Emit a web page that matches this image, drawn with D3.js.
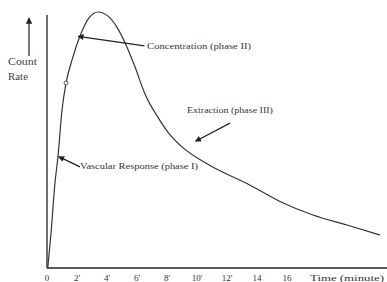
<!DOCTYPE html>
<html>
<head>
<meta charset="utf-8">
<script src="https://cdn.jsdelivr.net/npm/d3@7"></script>
<style>
  body { margin: 0; background: #fff; }
  svg { display: block; font-family: "Liberation Serif", "DejaVu Serif", serif; }
</style>
</head>
<body>
<div id="chart"></div>
<script>
// time (minutes) and count rate (arbitrary units, peak = 100)
const times  = [0.05, 0.27, 0.53, 0.73, 1.0, 1.27, 1.67, 2.2, 2.8, 3.4, 4.07, 4.67, 5.2, 5.87, 6.53, 7.33, 8.07, 8.87, 10.87, 13.33, 15.53, 17.73, 20, 22.2];
const counts = [0, 13.7, 33.2, 43.4, 61.7, 72.3, 81.3, 90.6, 97.7, 100, 98.4, 94, 88, 78.5, 68, 59.5, 53, 48, 40, 33, 26, 20.7, 16.8, 12.9];

const tickValues = [0, 2, 4, 6, 8, 10, 12, 14, 16];
const tickLabels = ["0", "2'", "4'", "6'", "8'", "10'", "12'", "14", "16"];

// annotation: arrow head point, arrow tail point, label text (data units)
const notes = [
  { head: [2.07, 90.5], tail: [6.5, 86.8], text: "Concentration (phase II)", lx: 6.67, ly: 85.5, len: 104 },
  { head: [9.9, 49.5], tail: [12.2, 56.6], text: "Extraction (phase III)", lx: 9.33, ly: 60.5, len: 86 },
  { head: [0.78, 43.5], tail: [2.2, 39.5], text: "Vascular Response (phase I)", lx: 2.2, ly: 38.5, len: 118 }
];

const width = 387, height = 282;
const x = d3.scaleLinear().domain([0, 16]).range([47, 287]);
const y = d3.scaleLinear().domain([0, 100]).range([268, 12]);

const svg = d3.select("#chart").append("svg")
  .attr("width", width).attr("height", height);

svg.append("defs").append("marker")
  .attr("id", "head")
  .attr("viewBox", "0 0 10 10")
  .attr("refX", 9).attr("refY", 5)
  .attr("markerWidth", 6).attr("markerHeight", 5)
  .attr("orient", "auto")
  .append("path").attr("d", "M0,0 L10,5 L0,10 Z").attr("fill", "#222");

// axes
svg.append("line")
  .attr("x1", x(0)).attr("x2", x(0)).attr("y1", 15).attr("y2", y(0))
  .attr("stroke", "#222").attr("stroke-width", 1.3);
svg.append("line")
  .attr("x1", x(0)).attr("x2", width).attr("y1", y(0)).attr("y2", y(0))
  .attr("stroke", "#222").attr("stroke-width", 1.3);

svg.selectAll(".tick")
  .data(tickValues)
  .join("text")
  .attr("class", "tick")
  .attr("x", d => x(d))
  .attr("y", 281)
  .attr("text-anchor", "middle")
  .attr("font-size", 9)
  .attr("fill", "#333")
  .text((d, i) => tickLabels[i]);

svg.append("text")
  .attr("x", 310).attr("y", 281)
  .attr("font-size", 9).attr("fill", "#333")
  .attr("textLength", 74)
  .attr("lengthAdjust", "spacingAndGlyphs")
  .text("Time (minute)");

// y label with up arrow
svg.append("line")
  .attr("x1", 29).attr("x2", 29).attr("y1", 56).attr("y2", 18)
  .attr("stroke", "#333").attr("stroke-width", 1.3)
  .attr("marker-end", "url(#head)");
svg.append("text").attr("x", 8).attr("y", 65)
  .attr("font-size", 10).attr("fill", "#444")
  .attr("textLength", 29).attr("lengthAdjust", "spacingAndGlyphs").text("Count");
svg.append("text").attr("x", 8).attr("y", 80)
  .attr("font-size", 10).attr("fill", "#444")
  .attr("textLength", 20).attr("lengthAdjust", "spacingAndGlyphs").text("Rate");

// curve
const pts = times.map((t, i) => [t, counts[i]]);
svg.append("path")
  .datum(pts)
  .attr("fill", "none")
  .attr("stroke", "#333")
  .attr("stroke-width", 1.2)
  .attr("d", d3.line().x(d => x(d[0])).y(d => y(d[1])).curve(d3.curveMonotoneX));

// small open circle on the rising limb
svg.append("circle")
  .attr("cx", x(1.27)).attr("cy", y(72.3)).attr("r", 2)
  .attr("fill", "#fff").attr("stroke", "#333").attr("stroke-width", 0.8);

// annotations
svg.selectAll(".arrow")
  .data(notes)
  .join("line")
  .attr("class", "arrow")
  .attr("x1", d => x(d.tail[0])).attr("y1", d => y(d.tail[1]))
  .attr("x2", d => x(d.head[0])).attr("y2", d => y(d.head[1]))
  .attr("stroke", "#222").attr("stroke-width", 1.2)
  .attr("marker-end", "url(#head)");

svg.selectAll(".note")
  .data(notes)
  .join("text")
  .attr("class", "note")
  .attr("x", d => x(d.lx))
  .attr("y", d => y(d.ly))
  .attr("font-size", 7.5)
  .attr("fill", "#333")
  .attr("textLength", d => d.len)
  .attr("lengthAdjust", "spacingAndGlyphs")
  .text(d => d.text);
</script>
</body>
</html>
